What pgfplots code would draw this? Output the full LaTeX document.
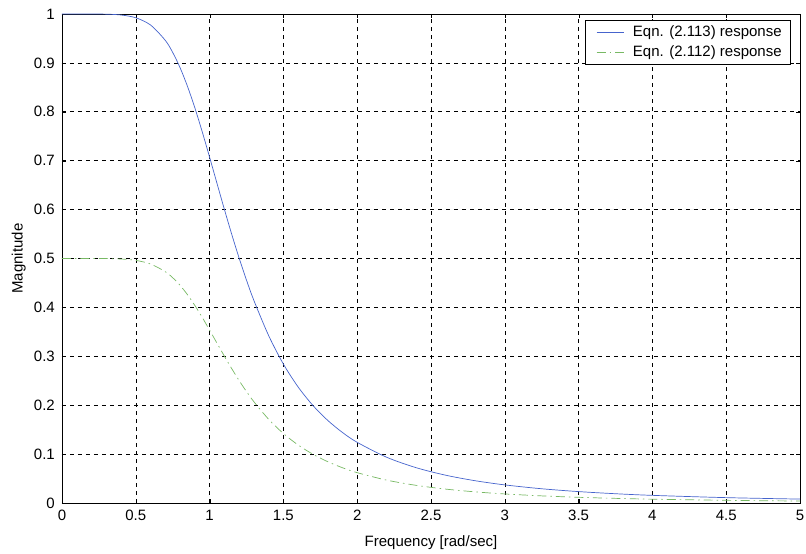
\documentclass[border=0pt]{standalone}
\usepackage{pgfplots}
\pgfplotsset{compat=1.18}
\usepackage{fontspec}
\setmainfont{Liberation Sans}
\definecolor{bl}{RGB}{70,100,205}
\definecolor{gr}{RGB}{120,185,100}
\begin{document}
\fontsize{15}{17}\selectfont
\begin{tikzpicture}
\begin{axis}[
  scale only axis, width=738pt, height=489pt,
  xmin=0, xmax=5, ymin=0, ymax=1,
  xtick={0,0.5,...,5}, ytick={0,0.1,...,1},
  xticklabels={0,0.5,1,1.5,2,2.5,3,3.5,4,4.5,5},
  yticklabels={0,0.1,0.2,0.3,0.4,0.5,0.6,0.7,0.8,0.9,1},
  /pgf/number format/assume math mode=true,
  tick label style={font=\fontsize{15}{17}\selectfont},
  xticklabel style={yshift=-2pt},
  yticklabel style={xshift=-2pt},
  label style={font=\fontsize{15}{17}\selectfont},
  grid=major, major grid style={black, line width=0.6pt, dash pattern=on 4pt off 4pt},
  axis line style={black, line width=0.8pt},
  tick style={black},
  tick align=inside,
  xlabel={Frequency [rad/sec]}, ylabel={Magnitude},
  xlabel style={yshift=-5pt}, ylabel style={yshift=-2pt},
  legend style={at={(rel axis cs:0.9878,0.9877)}, anchor=north east, draw=black, line width=0.6pt, font=\fontsize{15}{17}\selectfont, inner xsep=7pt, inner ysep=3pt, row sep=2pt, nodes={inner sep=2pt, text height=11pt, text depth=3pt}},
  legend cell align=left,
  legend image code/.code={\draw[#1] (0pt,0pt) -- (27pt,0pt); \path (-4pt,0pt) (34pt,0pt);},
]
\addplot[bl, line width=0.7pt, smooth] coordinates {
(0,1) (0.1,1) (0.2,0.99997) (0.3,0.99964) (0.4,0.99796) (0.5,0.99228) (0.6,0.97745) (0.7,0.94601) (0.75,0.92137) (0.8,0.89018) (0.85,0.85214) (0.9,0.80812) (0.95,0.75918) (1.0,0.70711) (1.05,0.65371) (1.1,0.60068) (1.15,0.54940) (1.2,0.50088) (1.25,0.45574) (1.3,0.41427) (1.4,0.34240) (1.5,0.28409) (1.6,0.23717) (1.7,0.19945) (1.8,0.16900) (1.9,0.14427) (2.0,0.12403) (2.2,0.09350) (2.4,0.07215) (2.6,0.05680) (2.8,0.04551) (3.0,0.03701) (3.25,0.02912) (3.5,0.02332) (3.75,0.01896) (4.0,0.01562) (4.5,0.01097) (5.0,0.00800)
};
\addlegendentry{Eqn. (2.113) response}
\addplot[gr, line width=0.7pt, smooth, dash pattern=on 9pt off 4pt on 1.5pt off 4pt] coordinates {
(0,0.5) (0.1,0.5) (0.2,0.49999) (0.3,0.49982) (0.4,0.49898) (0.5,0.49614) (0.6,0.48873) (0.7,0.47301) (0.75,0.46069) (0.8,0.44509) (0.85,0.42607) (0.9,0.40406) (0.95,0.37959) (1.0,0.35355) (1.05,0.32686) (1.1,0.30034) (1.15,0.27470) (1.2,0.25044) (1.25,0.22787) (1.3,0.20714) (1.4,0.17120) (1.5,0.14205) (1.6,0.11859) (1.7,0.09973) (1.8,0.08450) (1.9,0.07214) (2.0,0.06202) (2.2,0.04675) (2.4,0.03608) (2.6,0.02840) (2.8,0.02276) (3.0,0.01851) (3.25,0.01456) (3.5,0.01166) (3.75,0.00948) (4.0,0.00781) (4.5,0.00549) (5.0,0.00400)
};
\addlegendentry{Eqn. (2.112) response}
\end{axis}
\pgfresetboundingbox
\path (current axis.south west) ++(-62pt,-51pt) coordinate (bl1);
\path (current axis.north east) ++(6pt,14pt) coordinate (tr1);
\path[use as bounding box] (bl1) rectangle (tr1);
\end{tikzpicture}
\end{document}
